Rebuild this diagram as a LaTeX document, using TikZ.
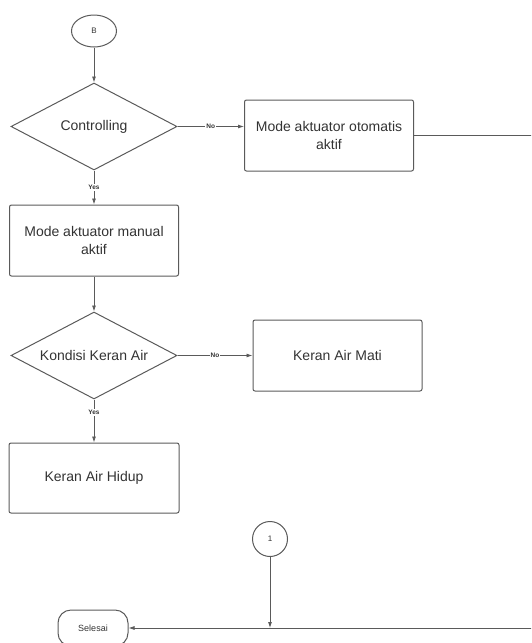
\documentclass[tikz,border=0pt]{standalone}
\usepackage{fontspec}
\setmainfont{Liberation Sans}
\usetikzlibrary{shapes.geometric, arrows.meta}
\definecolor{linegray}{HTML}{5A5A5A}
\definecolor{textgray}{HTML}{333333}

\begin{document}
\begin{tikzpicture}[x=1pt, y=-1pt,
  every node/.style={text=textgray},
  box/.style={draw=linegray, line width=1pt, rounded corners=2pt, minimum width=169pt, minimum height=71pt, align=center, font=\fontsize{14}{18}\selectfont},
  decision/.style={draw=linegray, line width=1pt, diamond, aspect=1.9, minimum width=166pt, minimum height=87pt, inner sep=0pt, font=\fontsize{14}{18}\selectfont},
  connector/.style={draw=linegray, line width=1pt, ellipse, inner sep=0pt, font=\fontsize{8}{9}\selectfont},
  terminal/.style={draw=linegray, line width=1pt, rounded corners=13pt, minimum width=70pt, minimum height=36pt, font=\fontsize{9}{10}\selectfont},
  flow/.style={draw=linegray, line width=0.8pt, -{Latex[length=6pt, width=4pt]}},
  lbl/.style={fill=white, inner sep=1pt, font=\fontsize{6.5}{7}\selectfont\bfseries}]
  \path[use as bounding box, clip] (0,0) rectangle (531,643);

  % Nodes
  \node[connector, minimum width=45pt, minimum height=32pt] (B) at (94, 31) {B};
  \node[decision] (ctrl) at (94, 126.5) {Controlling};
  \node[box] (oto) at (329, 135.5) {Mode aktuator otomatis\\aktif};
  \node[box] (man) at (94, 240.5) {Mode aktuator manual\\aktif};
  \node[decision] (kond) at (94, 355.5) {Kondisi Keran Air};
  \node[box] (mati) at (337.5, 355.5) {Keran Air Mati};
  \node[box, minimum width=170pt, minimum height=70pt] (hidup) at (94, 478) {Keran Air Hidup};
  \node[connector, circle, minimum size=35pt] (one) at (270, 539) {1};
  \node[terminal] (sel) at (93, 628) {Selesai};

  \coordinate (otoEnd) at (545, 135.5);
  \coordinate (rightEnd) at (545, 628);

  % Connectors
  \draw[flow] (B) -- (ctrl);
  \draw[flow] (ctrl.east) -- node[lbl] {No} (ctrl.east -| oto.west);
  \draw[flow] (ctrl) -- node[lbl] {Yes} (man);
  \draw[draw=linegray, line width=0.8pt] (oto) -- (otoEnd);
  \draw[flow] (man) -- (kond);
  \draw[flow] (kond) -- node[lbl] {No} (mati);
  \draw[flow] (kond) -- node[lbl, pos=0.3] {Yes} (hidup);
  \draw[flow] (one) -- (one |- rightEnd);
  \draw[flow] (rightEnd) -- (sel);
\end{tikzpicture}
\end{document}
